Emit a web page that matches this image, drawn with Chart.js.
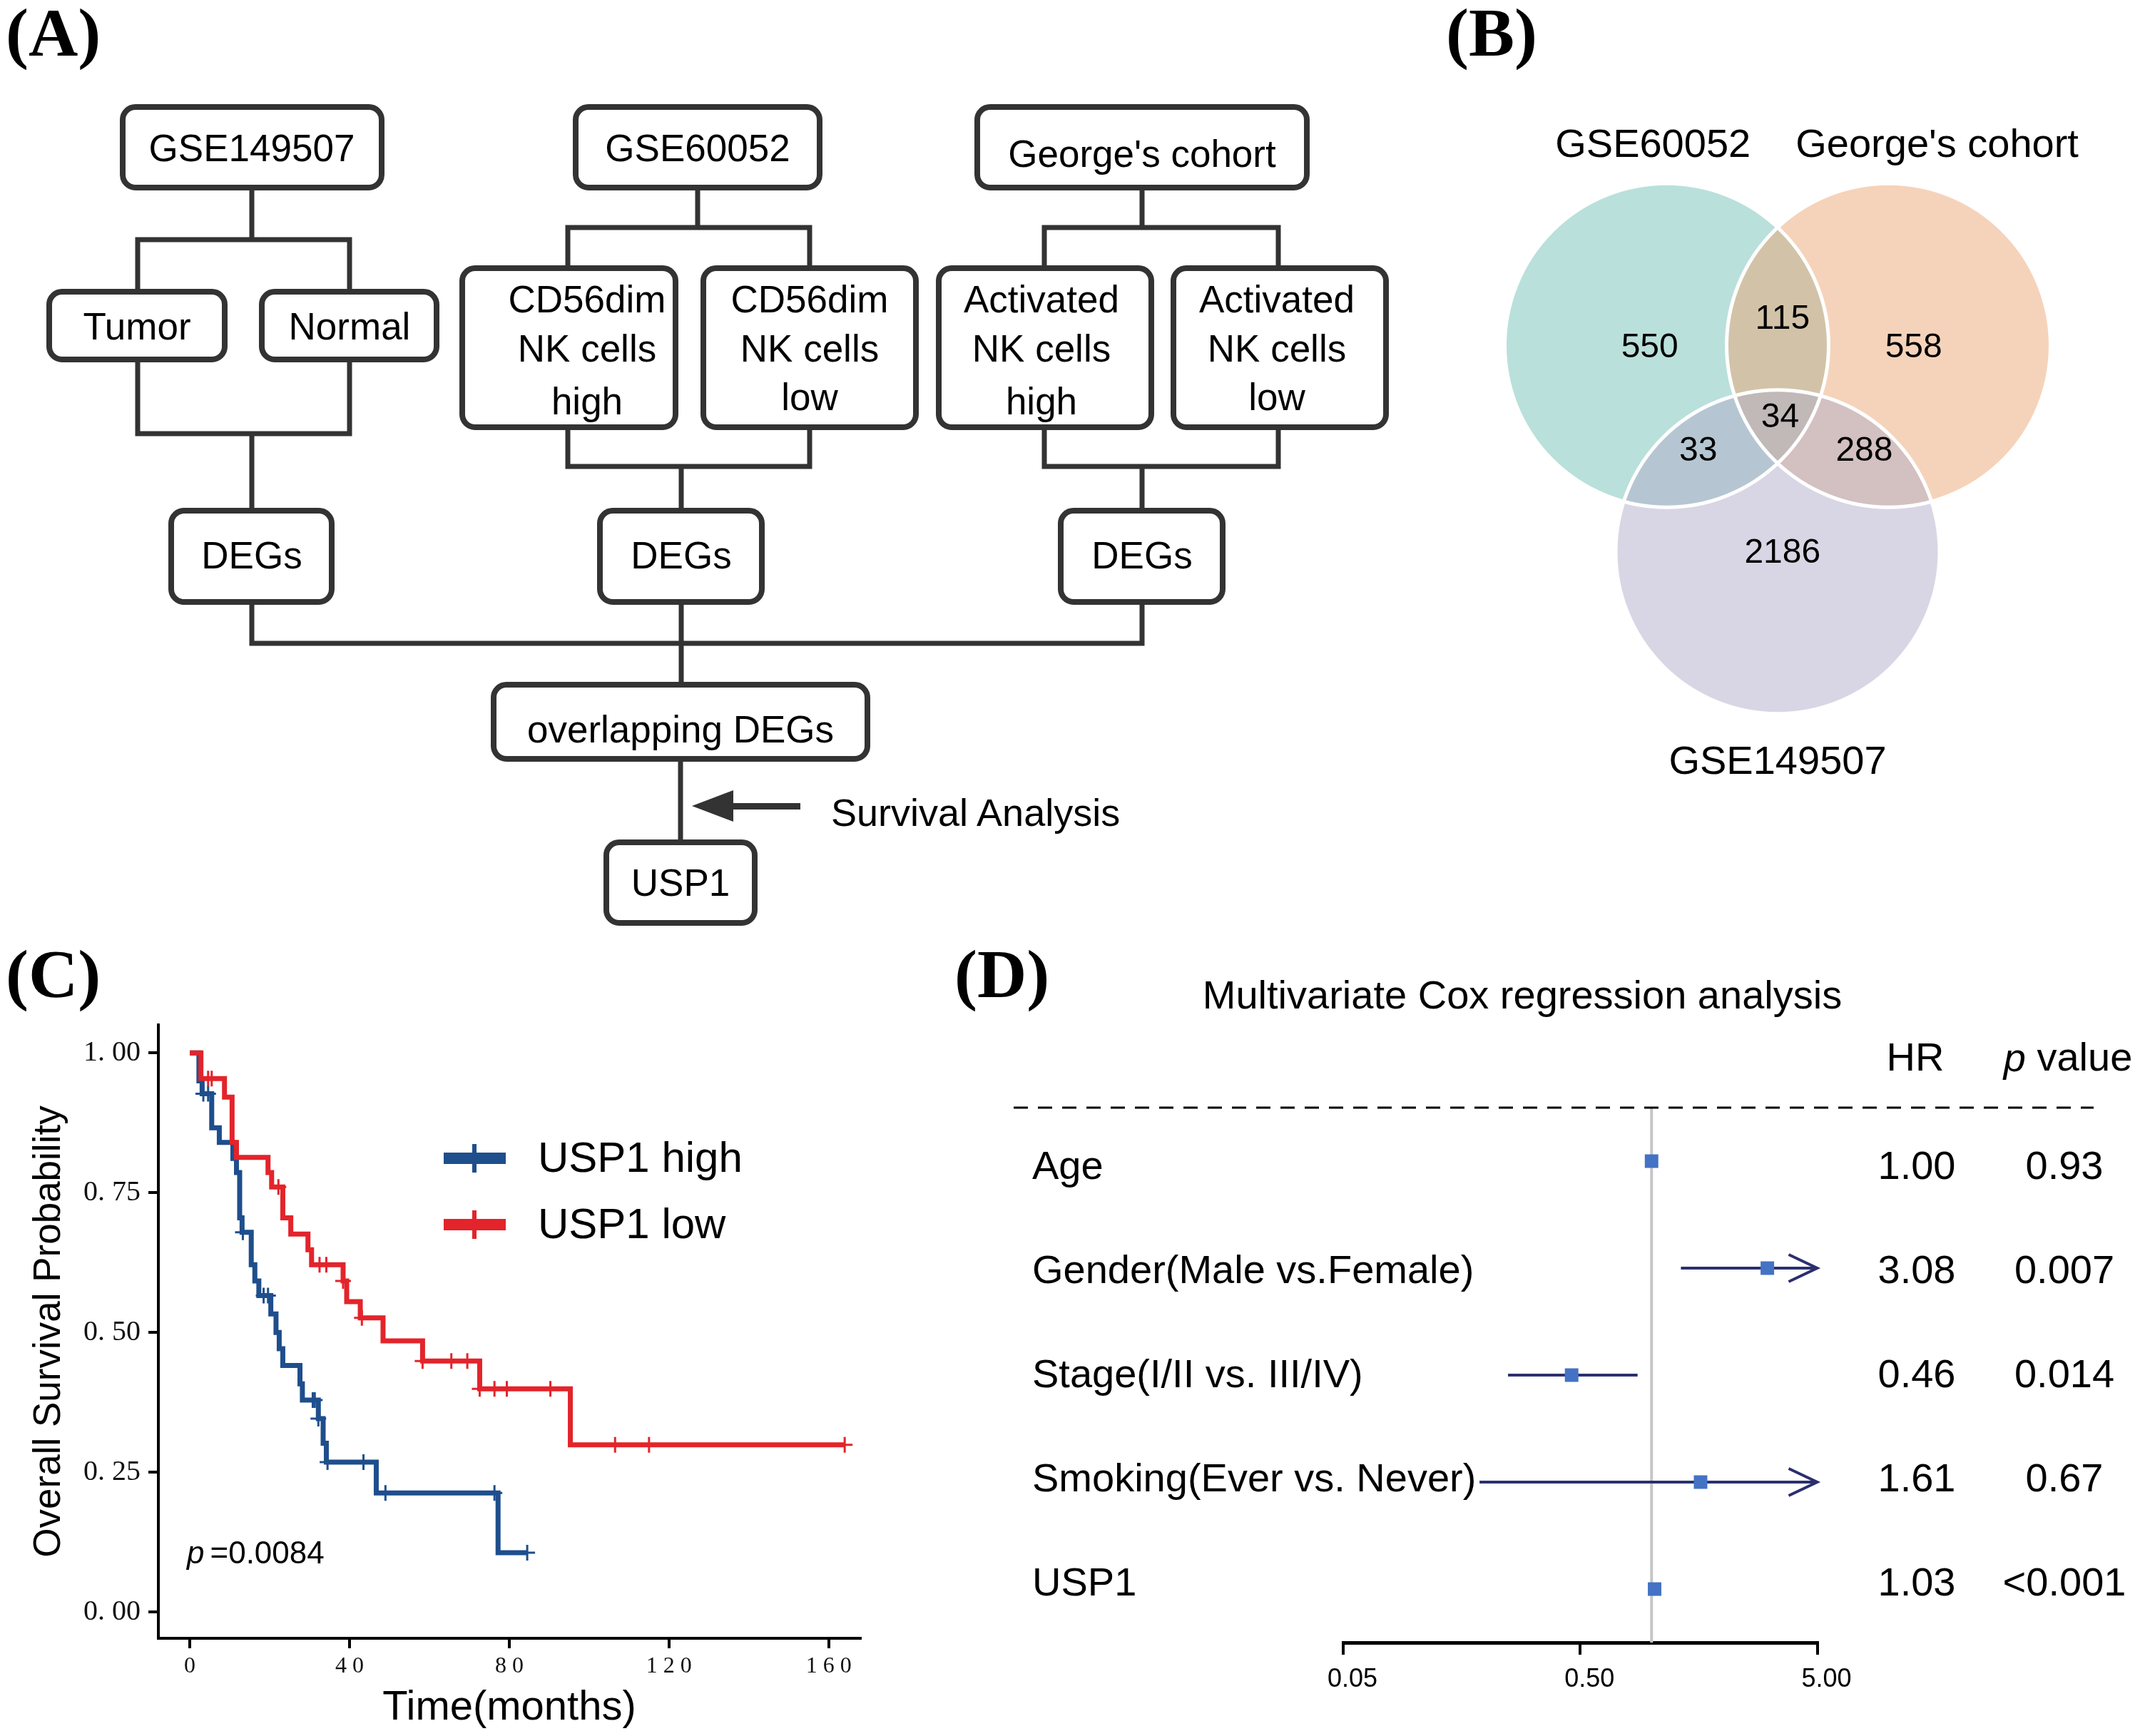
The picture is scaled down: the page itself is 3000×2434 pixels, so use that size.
<!DOCTYPE html>
<html>
<head>
<meta charset="utf-8">
<script src="https://cdn.jsdelivr.net/npm/chart.js@4.4.1/dist/chart.umd.min.js"></script>
<style>
  html, body { margin: 0; padding: 0; background: #fff; }
  #page { position: relative; width: 3000px; height: 2434px; overflow: hidden; background: #fff; }
  #page svg, #page canvas { position: absolute; }
</style>
</head>
<body>
<div id="page">
  <svg id="flow" width="3000" height="2434" style="left:0;top:0"></svg>
  <canvas id="venn" width="908" height="954" style="left:2038px;top:152px"></canvas>
  <canvas id="km" width="1250" height="1014" style="left:0;top:1420px"></canvas>
  <canvas id="forest" width="1620" height="1094" style="left:1380px;top:1340px"></canvas>
</div>
<script>
// ---- data ----
// (B) venn
const vennSets = ["GSE60052", "George's cohort", "GSE149507"];
const vennRegionCounts = [550, 115, 558, 34, 33, 288, 2186];

// (C) Kaplan-Meier, USP1 high
const highTime = [0, 2.3, 3.1, 5.5, 7.4, 10.8, 11.7, 12.5, 13.1, 15.4, 16.3, 17.3, 20.3, 21.6, 22.4, 23.3, 27.6, 28.2, 32.2, 33.4, 34.2, 46.7, 77.2, 84.5];
const highSurv = [1, 0.950, 0.927, 0.866, 0.840, 0.811, 0.786, 0.705, 0.679, 0.621, 0.592, 0.566, 0.533, 0.500, 0.471, 0.441, 0.408, 0.379, 0.346, 0.302, 0.268, 0.213, 0.106, 0.106];
const highCensor = [3.4, 4.6, 13.3, 18.5, 19.6, 30.8, 31.3, 32.2, 34.5, 43.5, 49, 76.3, 84.5];
// USP1 low
const lowTime = [0, 2.8, 8.7, 10.6, 11.7, 19.6, 20.5, 23.3, 25.3, 29.6, 30.5, 38.4, 39.3, 42.7, 48.4, 58.3, 72.6, 95.3, 164];
const lowSurv = [1, 0.954, 0.921, 0.840, 0.813, 0.786, 0.760, 0.705, 0.676, 0.648, 0.621, 0.592, 0.555, 0.526, 0.485, 0.449, 0.399, 0.299, 0.299];
const lowCensor = [4.6, 5.5, 22.2, 32.5, 34.2, 38.4, 43.1, 58.3, 65.5, 69.5, 72.6, 76.3, 79.4, 90.3, 106.5, 115, 164];
const kmGroups = ["USP1 high", "USP1 low"];
const kmXTicks = [0, 40, 80, 120, 160];
const kmYTicks = [0, 0.25, 0.5, 0.75, 1];
const kmPText = "=0.0084";

// (D) multivariate Cox
const coxVars = ["Age", "Gender(Male vs.Female)", "Stage(I/II vs. III/IV)", "Smoking(Ever vs. Never)", "USP1"];
const coxHR = [1.00, 3.08, 0.46, 1.61, 1.03];
const coxLow = [0.99, 1.33, 0.248, 0.188, 1.02];
const coxHigh = [1.01, 5, 0.873, 5, 1.04];
const coxCut = [false, true, false, true, false];
const coxP = ["0.93", "0.007", "0.014", "0.67", "<0.001"];
const coxTicks = [0.05, 0.5, 5];
const coxRef = 1;

const BLUE = "#1E4E8C", RED = "#E3242B", NAVY = "#2B2F6E", SQ = "#4472C4";
const SANS = "'Liberation Sans', Arial, sans-serif";
const SERIF = "'Liberation Serif', 'Times New Roman', serif";

// ---- (A) flowchart + panel letters, plain svg ----
const boxes = [
  { x: 168, y: 146, w: 371, h: 121, cx: 353, ys: [207], t: ["GSE149507"] },
  { x: 803, y: 146, w: 350, h: 121, cx: 978, ys: [207], t: ["GSE60052"] },
  { x: 1366, y: 146, w: 470, h: 121, cx: 1601, ys: [215], t: ["George's cohort"] },
  { x: 65, y: 405, w: 254, h: 103, cx: 192, ys: [457], t: ["Tumor"] },
  { x: 363, y: 405, w: 253, h: 103, cx: 490, ys: [457], t: ["Normal"] },
  { x: 644, y: 372, w: 307, h: 231, cx: 823, ys: [419, 488, 562], t: ["CD56dim", "NK cells", "high"] },
  { x: 982, y: 372, w: 306, h: 231, cx: 1135, ys: [419, 488, 556], t: ["CD56dim", "NK cells", "low"] },
  { x: 1312, y: 372, w: 306, h: 231, cx: 1460, ys: [419, 488, 562], t: ["Activated", "NK cells", "high"] },
  { x: 1641, y: 372, w: 306, h: 231, cx: 1790, ys: [419, 488, 556], t: ["Activated", "NK cells", "low"] },
  { x: 236, y: 712, w: 233, h: 136, cx: 353, ys: [778], t: ["DEGs"] },
  { x: 837, y: 712, w: 235, h: 136, cx: 955, ys: [778], t: ["DEGs"] },
  { x: 1483, y: 712, w: 235, h: 136, cx: 1601, ys: [778], t: ["DEGs"] },
  { x: 688, y: 956, w: 532, h: 112, cx: 954, ys: [1022], t: ["overlapping DEGs"] },
  { x: 846, y: 1177, w: 216, h: 121, cx: 954, ys: [1237], t: ["USP1"] }
];
const links = [
  "M353 267V336M193 405V336H490V405",
  "M193 508V608H490V508M353 608V712",
  "M978 267V319M796 372V319H1135V372",
  "M796 603V654H1135V603M955 654V712",
  "M1601 267V319M1464 372V319H1792V372",
  "M1464 603V654H1792V603M1601 654V712",
  "M353 848V902H1601V848M955 848V956",
  "M954 1068V1177"
];
let svg = "";
links.forEach(d => { svg += `<path d="${d}" fill="none" stroke="#333" stroke-width="7"/>`; });
boxes.forEach(b => {
  svg += `<rect x="${b.x + 4}" y="${b.y + 4}" width="${b.w - 8}" height="${b.h - 8}" rx="18" fill="#fff" stroke="#333" stroke-width="8"/>`;
  b.t.forEach((s, i) => {
    svg += `<text x="${b.cx}" y="${b.ys[i]}" font-family="${SANS}" font-size="53" text-anchor="middle" dominant-baseline="central" fill="#000">${s.replace("'", "&#39;")}</text>`;
  });
});
svg += `<polygon points="970,1130 1028,1108 1028,1152" fill="#333"/>`;
svg += `<rect x="1026" y="1126" width="96" height="9" fill="#333"/>`;
svg += `<text x="1165" y="1139" font-family="${SANS}" font-size="54" dominant-baseline="central" fill="#000">Survival Analysis</text>`;
[["(A)", 8, 78], ["(B)", 2027, 78], ["(C)", 8, 1398], ["(D)", 1338, 1398]].forEach(l => {
  svg += `<text x="${l[1]}" y="${l[2]}" font-family="${SERIF}" font-weight="bold" font-size="96" fill="#000">${l[0]}</text>`;
});
document.getElementById("flow").innerHTML = svg;

// ---- (B) venn ----
const vennCentres = [[-0.685, 0.637], [0.685, 0.637], [0, -0.637]];
const vennFill = ["rgba(117,193,183,0.5)", "rgba(235,167,117,0.5)", "rgba(177,173,201,0.5)"];
const vennNumPos = [[-0.79, 0.62], [0.03, 0.80], [0.84, 0.62], [0.015, 0.19], [-0.49, -0.015], [0.535, -0.015], [0.03, -0.645]];
const vennLabelPos = [[-0.77, 1.87], [0.985, 1.87], [0, -1.94]];
const unitRadius = c => {
  const s = c.chart.scales.x;
  return s.getPixelForValue(1) - s.getPixelForValue(0);
};
const vennText = {
  id: "vennText",
  afterDatasetsDraw(chart) {
    const { ctx, scales: { x, y } } = chart;
    ctx.save();
    ctx.fillStyle = "#000";
    ctx.textAlign = "center";
    ctx.textBaseline = "middle";
    ctx.font = `48px ${SANS}`;
    vennRegionCounts.forEach((n, i) => {
      ctx.fillText(String(n), x.getPixelForValue(vennNumPos[i][0]), y.getPixelForValue(vennNumPos[i][1]));
    });
    ctx.font = `56px ${SANS}`;
    vennSets.forEach((s, i) => {
      ctx.fillText(s, x.getPixelForValue(vennLabelPos[i][0]), y.getPixelForValue(vennLabelPos[i][1]));
    });
    ctx.restore();
  }
};
new Chart(document.getElementById("venn"), {
  type: "scatter",
  data: {
    datasets: vennSets.map((s, i) => ({
      label: s,
      data: [{ x: vennCentres[i][0], y: vennCentres[i][1] }],
      pointRadius: unitRadius,
      backgroundColor: vennFill[i],
      borderWidth: 0,
      order: 3 - i
    })).concat([{
      label: "outline",
      data: vennCentres.map(c => ({ x: c[0], y: c[1] })),
      pointRadius: unitRadius,
      backgroundColor: "rgba(0,0,0,0)",
      borderColor: "#fff",
      borderWidth: 5,
      order: 0
    }])
  },
  options: {
    responsive: false, animation: false, devicePixelRatio: 1, events: [],
    layout: { padding: 0 },
    plugins: { legend: { display: false }, tooltip: { enabled: false } },
    scales: {
      x: { type: "linear", min: -2, max: 2, display: false },
      y: { type: "linear", min: -2.1, max: 2.1, display: false }
    }
  },
  plugins: [vennText]
});

// ---- (C) Kaplan-Meier ----
const survAt = (times, surv, t) => {
  let s = surv[0];
  for (let i = 0; i < times.length; i++) if (times[i] <= t) s = surv[i];
  return s;
};
const kmLegend = {
  id: "kmLegend",
  afterDraw(chart) {
    const ctx = chart.ctx;
    ctx.save();
    [BLUE, RED].forEach((col, i) => {
      const yy = 204 + i * 93;
      ctx.fillStyle = col;
      ctx.fillRect(622, yy - 8, 87, 16);
      ctx.fillRect(662, yy - 20, 6, 40);
      ctx.fillStyle = "#000";
      ctx.font = `60px ${SANS}`;
      ctx.textBaseline = "middle";
      ctx.fillText(kmGroups[i], 754, yy + 2);
    });
    ctx.font = `italic 44px ${SANS}`;
    ctx.fillText("p", 262, 760);
    const w = ctx.measureText("p").width;
    ctx.font = `44px ${SANS}`;
    ctx.fillText(kmPText, 262 + w + 8, 760);
    ctx.restore();
  }
};
const spaced = v => String(v).split("").join(" ");
const noPad = s => { s.paddingTop = 0; s.paddingBottom = 0; s.paddingLeft = 0; s.paddingRight = 0; };
new Chart(document.getElementById("km"), {
  type: "line",
  data: {
    datasets: [
      { label: kmGroups[0], data: highTime.map((t, i) => ({ x: t, y: highSurv[i] })), borderColor: BLUE, borderWidth: 7, stepped: "before", pointRadius: 0, fill: false, order: 1 },
      { label: kmGroups[1], data: lowTime.map((t, i) => ({ x: t, y: lowSurv[i] })), borderColor: RED, borderWidth: 7, stepped: "before", pointRadius: 0, fill: false, order: 0 },
      { type: "scatter", label: "censor high", data: highCensor.map(t => ({ x: t, y: survAt(highTime, highSurv, t) })), pointStyle: "cross", pointRadius: 11, borderColor: BLUE, borderWidth: 3, showLine: false, order: 1 },
      { type: "scatter", label: "censor low", data: lowCensor.map(t => ({ x: t, y: survAt(lowTime, lowSurv, t) })), pointStyle: "cross", pointRadius: 11, borderColor: RED, borderWidth: 3, showLine: false, order: 0 }
    ]
  },
  options: {
    responsive: false, animation: false, devicePixelRatio: 1, events: [],
    layout: { padding: { left: 0, right: 44, top: 17, bottom: 0 } },
    plugins: { legend: { display: false }, tooltip: { enabled: false } },
    scales: {
      x: {
        type: "linear", min: -7.86, max: 167.9,
        afterBuildTicks: s => { s.ticks = kmXTicks.map(v => ({ value: v })); },
        afterFit: s => { s.height = 137; noPad(s); },
        ticks: { callback: v => spaced(v), font: { family: SERIF, size: 32 }, color: "#111", padding: 6, maxRotation: 0, autoSkip: false },
        grid: { drawOnChartArea: false, tickLength: 14, color: "#000", lineWidth: 4 },
        border: { color: "#000", width: 4 },
        title: { display: true, text: "Time(months)", font: { family: SANS, size: 58 }, color: "#000", padding: { top: 0, bottom: 4 } }
      },
      y: {
        type: "linear", min: -0.047, max: 1.05,
        afterBuildTicks: s => { s.ticks = kmYTicks.map(v => ({ value: v })); },
        afterFit: s => { s.width = 222; noPad(s); },
        ticks: { callback: v => v.toFixed(2).replace(".", ". "), font: { family: SERIF, size: 40 }, color: "#111", padding: 11 },
        grid: { drawOnChartArea: false, tickLength: 14, color: "#000", lineWidth: 4 },
        border: { color: "#000", width: 4 },
        title: { display: true, text: "Overall Survival Probability", font: { family: SANS, size: 53 }, color: "#000", padding: { top: 38, bottom: 0 } }
      }
    }
  },
  plugins: [kmLegend]
});

// ---- (D) forest plot ----
const forestText = {
  id: "forestText",
  afterDraw(chart) {
    const { ctx, chartArea, scales: { x, y } } = chart;
    ctx.save();
    ctx.fillStyle = "#000";
    ctx.textBaseline = "middle";
    ctx.font = `56px ${SANS}`;
    ctx.textAlign = "center";
    ctx.fillText("Multivariate Cox regression analysis", 754, 59);
    ctx.fillText("HR", 1305, 146);
    ctx.font = `italic 56px ${SANS}`;
    const pw = ctx.measureText("p").width;
    ctx.font = `56px ${SANS}`;
    const vw = ctx.measureText(" value").width;
    ctx.textAlign = "left";
    const px0 = 1519 - (pw + vw) / 2;
    ctx.font = `italic 56px ${SANS}`;
    ctx.fillText("p", px0, 146);
    ctx.font = `56px ${SANS}`;
    ctx.fillText(" value", px0 + pw, 146);
    // dashed rule
    ctx.strokeStyle = "#000";
    ctx.lineWidth = 3;
    ctx.setLineDash([20, 14]);
    ctx.beginPath();
    ctx.moveTo(41, chartArea.top);
    ctx.lineTo(1555, chartArea.top);
    ctx.stroke();
    ctx.setLineDash([]);
    coxVars.forEach((v, i) => {
      const yy = y.getPixelForValue(i);
      const ty = chartArea.top + 85 + i * 146;
      ctx.textAlign = "left";
      ctx.fillText(v, 67, ty);
      ctx.textAlign = "center";
      ctx.fillText(coxHR[i].toFixed(2), 1307, ty);
      ctx.fillText(coxP[i], 1514, ty);
      if (coxCut[i]) {
        const tip = x.getPixelForValue(coxHigh[i]);
        ctx.strokeStyle = NAVY;
        ctx.lineWidth = 4;
        ctx.beginPath();
        ctx.moveTo(tip - 40, yy - 19);
        ctx.lineTo(tip, yy);
        ctx.lineTo(tip - 40, yy + 19);
        ctx.stroke();
      }
    });
    ctx.restore();
  }
};
const ciSets = coxVars.map((v, i) => ({
  label: v + " CI",
  data: [{ x: coxLow[i], y: i }, { x: coxHigh[i], y: i }],
  showLine: true, borderColor: NAVY, borderWidth: 4, pointRadius: 0, order: 1
}));
new Chart(document.getElementById("forest"), {
  type: "scatter",
  data: {
    datasets: [
      { label: "HR", data: coxHR.map((h, i) => ({ x: h, y: i })), pointStyle: "rect", pointRadius: 13.4, backgroundColor: SQ, borderWidth: 0, order: 0 },
      ...ciSets,
      { label: "ref", data: [{ x: coxRef, y: -0.5 }, { x: coxRef, y: 4.5 }], showLine: true, borderColor: "#c6c6c6", borderWidth: 4, pointRadius: 0, order: 2 }
    ]
  },
  options: {
    responsive: false, animation: false, devicePixelRatio: 1, events: [],
    layout: { padding: { left: 503, right: 452.5, top: 213, bottom: 0 } },
    plugins: { legend: { display: false }, tooltip: { enabled: false } },
    scales: {
      x: {
        type: "logarithmic", min: 0.05, max: 5,
        afterBuildTicks: s => { s.ticks = coxTicks.map(v => ({ value: v })); },
        afterFit: s => { s.height = 131; noPad(s); },
        ticks: { callback: v => Number(v).toFixed(2), font: { family: SANS, size: 36 }, color: "#000", padding: 13, labelOffset: 13, maxRotation: 0, autoSkip: false },
        grid: { drawOnChartArea: false, tickLength: 17, color: "#000", lineWidth: 4 },
        border: { color: "#000", width: 5 }
      },
      y: { type: "linear", min: -0.5, max: 4.5, reverse: true, display: false }
    }
  },
  plugins: [forestText]
});
</script>
</body>
</html>
